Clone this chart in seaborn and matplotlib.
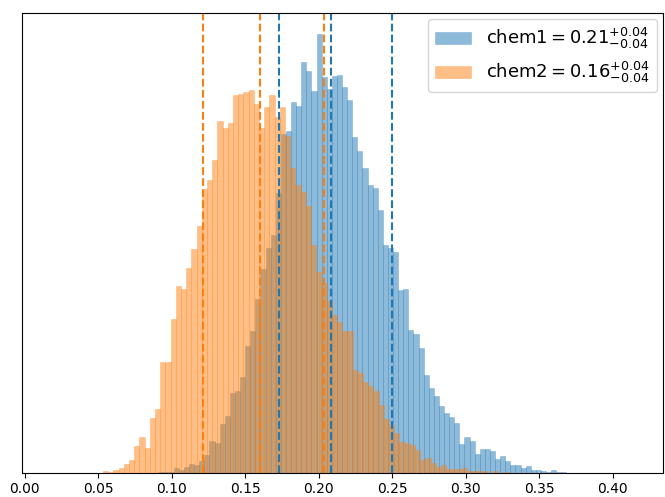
import numpy as np
import pandas as pd
import matplotlib
matplotlib.use("Agg")
import matplotlib.pyplot as plt
import seaborn as sns
from matplotlib.colors import to_rgba

# histogram bins (left edge of first bin, bin width)
chem1_start, chem1_width = 0.09088, 0.003469
chem2_start, chem2_width = 0.0532, 0.003537

# bar heights
chem1_counts = [1, 1, 1, 4.7, 2.7, 5.7, 8.7, 7.7, 11.7, 17.7, 31.7, 29.7, 48.7, 56.7,
                79.7, 81.7, 95.7, 126.7, 141.7, 173.7, 203.7, 224.7, 237.7, 279.7,
                338.7, 341.7, 370.7, 366.7, 409.7, 400.7, 380.7, 437.7, 394.7, 382.7,
                395.7, 396.7, 384.7, 372.7, 335.7, 321.7, 304.7, 287.7, 284.7, 262.7,
                227.7, 224.7, 220.7, 182.7, 183.7, 142.7, 138.7, 124.7, 97.7, 84.7,
                76.7, 66.7, 59.7, 55.7, 49.7, 28.7, 35.7, 31.7, 18.7, 23.7, 23.7,
                21.7, 13.7, 16.7, 11.7, 7.7, 7.7, 4.7, 6.7, 2.7, 2.7, 1.7, 0.7, 2.7,
                0.7, 0.7]
chem2_counts = [1.7, 0.7, 2.7, 4.7, 8.7, 12.7, 26.7, 35.7, 24.7, 54.7, 63.7, 110.7,
                110.7, 153.7, 186.7, 183.7, 204.7, 223.7, 246.7, 283.7, 292.7, 312.7,
                351.7, 344.7, 349.7, 376.7, 377.7, 379.7, 381.7, 368.7, 344.7, 365.7,
                376.7, 355.7, 365.7, 336, 304.7, 287.7, 280.7, 266.7, 227.7, 200.7,
                189.7, 171.7, 157.7, 150.7, 141.7, 141.7, 102.7, 99.7, 90.7, 86.7,
                81.7, 67.7, 53.7, 47.7, 39.7, 30.7, 29.7, 27.7, 22.7, 12.7, 14.7,
                9.7, 5.7, 7.7, 3.7, 3.7, 3.7, 4.7, 1.7, 1.7, 1.7, 1.7, 0, 1.7, 0, 0.7]

# 16th, 50th, 84th percentiles
chem1_q = [0.1729, 0.2081, 0.2498]
chem2_q = [0.1214, 0.1598, 0.2033]

chem1_label = r"chem1$=0.21_{-0.04}^{+0.04}$"
chem2_label = r"chem2$=0.16_{-0.04}^{+0.04}$"


def hist_table(start, width, counts):
    n = len(counts)
    df = pd.DataFrame({"x": start + width * (np.arange(n) + 0.5), "w": counts})
    return df, (start, start + width * n)


fig = plt.figure(figsize=(6.65, 4.97), dpi=100)
ax = fig.add_axes([22 / 665, 24.3 / 497, 641 / 665, 460.2 / 497])

d1, r1 = hist_table(chem1_start, chem1_width, chem1_counts)
d2, r2 = hist_table(chem2_start, chem2_width, chem2_counts)

sns.histplot(data=d1, x="x", weights="w", binwidth=chem1_width, binrange=r1,
             color="C0", alpha=0.5, edgecolor=to_rgba("C0", 0.35), linewidth=0.5,
             label=chem1_label, ax=ax)
sns.histplot(data=d2, x="x", weights="w", binwidth=chem2_width, binrange=r2,
             color="C1", alpha=0.5, edgecolor=to_rgba("C1", 0.35), linewidth=0.5,
             label=chem2_label, ax=ax)

for q in chem1_q:
    ax.axvline(q, color="C0", ls="--", lw=1.5)
for q in chem2_q:
    ax.axvline(q, color="C1", ls="--", lw=1.5)

ax.set_xlim(-0.0019, 0.4341)
ax.set_yticks([])
ax.set_xlabel("")
ax.set_ylabel("")
ax.legend(loc="upper right", fontsize=13, borderaxespad=0.35)

fig.savefig("out.png", dpi=100)
